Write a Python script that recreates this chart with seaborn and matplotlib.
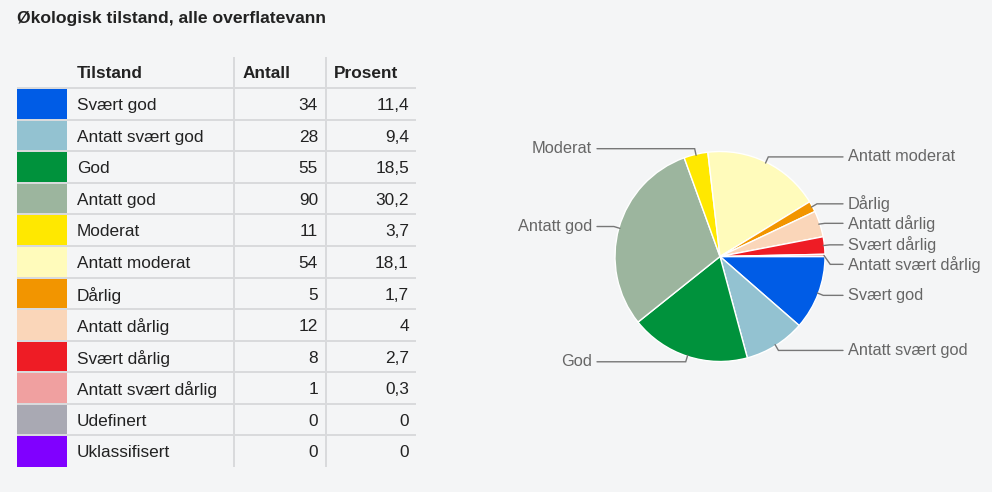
import matplotlib
matplotlib.use("Agg")
import matplotlib.pyplot as plt
from matplotlib.patches import Rectangle
import seaborn as sns
import numpy as np
import pandas as pd

# ---------------- data ----------------
title = "Økologisk tilstand, alle overflatevann"
headers = ["Tilstand", "Antall", "Prosent"]
categories = ["Svært god", "Antatt svært god", "God", "Antatt god", "Moderat",
              "Antatt moderat", "Dårlig", "Antatt dårlig", "Svært dårlig",
              "Antatt svært dårlig", "Udefinert", "Uklassifisert"]
counts = [34, 28, 55, 90, 11, 54, 5, 12, 8, 1, 0, 0]
percents = ["11,4", "9,4", "18,5", "30,2", "3,7", "18,1", "1,7", "4", "2,7", "0,3", "0", "0"]
colors = ["#005ce6", "#93c2d1", "#00923c", "#9cb59e", "#ffe800", "#fffbbb",
          "#f29500", "#fad6b9", "#ee1c25", "#f0a0a0", "#a9a9b3", "#8000ff"]

df = pd.DataFrame({"cat": categories, "n": counts, "pct": percents, "col": colors})

# ---------------- style ----------------
sns.set_theme(style="white")
plt.rcParams["font.family"] = ["Liberation Sans", "DejaVu Sans"]

BG = "#f4f5f6"
GRID = "#d9dadc"
TXT = "#222222"
W, H = 992, 492
fig = plt.figure(figsize=(W / 100, H / 100), dpi=100, facecolor=BG)

# overlay axes in pixel coordinates for title + table
ax_t = fig.add_axes([0, 0, 1, 1])
ax_t.set_xlim(0, W)
ax_t.set_ylim(H, 0)
ax_t.axis("off")

ax_t.text(17, 18, title, fontsize=12.6, fontweight="bold", color=TXT,
          ha="left", va="center")

# table layout
x_sw0, x_sw1 = 17, 67
x_name = 77
x_sep1, x_sep2, x_end = 234, 326, 416
x_antall, x_pros = 318, 409
head_top, head_y = 57, 73.5
row_top0 = 88.2
row_h = 31.55
dy = 1.8
fs = 12.4
lw_px = 2 * 0.72

ax_t.text(x_name, head_y, headers[0], fontsize=fs, fontweight="bold", color=TXT, ha="left", va="center")
ax_t.text(x_sep1 + 9, head_y, headers[1], fontsize=fs, fontweight="bold", color=TXT, ha="left", va="center")
ax_t.text(x_sep2 + 8, head_y, headers[2], fontsize=fs, fontweight="bold", color=TXT, ha="left", va="center")

for i, r in df.iterrows():
    top = row_top0 + i * row_h
    yc = top + row_h / 2 + dy
    ax_t.add_patch(Rectangle((x_sw0, top), x_sw1 - x_sw0, row_h, facecolor=r["col"],
                             edgecolor="none", zorder=1))
    ax_t.text(x_name, yc, r["cat"], fontsize=fs, color=TXT, ha="left", va="center")
    ax_t.text(x_antall, yc, str(r["n"]), fontsize=fs, color=TXT, ha="right", va="center")
    ax_t.text(x_pros, yc, r["pct"], fontsize=fs, color=TXT, ha="right", va="center")

n_rows = len(df)
for i in range(n_rows):
    y = row_top0 + i * row_h
    ax_t.plot([x_sw0, x_end], [y, y], color=GRID, lw=lw_px, zorder=2, solid_capstyle="butt")
bottom = row_top0 + n_rows * row_h
for x in (x_sep1, x_sep2):
    ax_t.plot([x, x], [head_top, bottom], color=GRID, lw=lw_px, zorder=2, solid_capstyle="butt")

# ---------------- pie ----------------
cx, cy, R = 720, 256.5, 105  # pixel centre / radius
px0, px1, py0, py1 = 500, 992, 120, 400
ax_p = fig.add_axes([px0 / W, 1 - py1 / H, (px1 - px0) / W, (py1 - py0) / H])
pdf = df[df["n"] > 0].reset_index(drop=True)
ax_p.pie(pdf["n"], colors=pdf["col"], startangle=0, counterclock=False, radius=1,
         wedgeprops=dict(edgecolor="white", linewidth=1))
ax_p.set_xlim((px0 - cx) / R, (px1 - cx) / R)
ax_p.set_ylim((cy - py1) / R, (cy - py0) / R)
ax_p.set_aspect("auto")
ax_p.axis("off")

frac = pdf["n"] / pdf["n"].sum()
cum = np.cumsum(frac) - frac / 2
theta = np.deg2rad(cum * 360)  # clockwise from east
ex = np.cos(theta)
ey = -np.sin(theta)
side = np.where(ex >= 0, 1, -1)

gap = 19.5 / R
ly = ey * 1.055
for s in (1, -1):
    idx = [i for i in np.argsort(-ey) if side[i] == s]
    for k in range(1, len(idx)):
        prev, cur = idx[k - 1], idx[k]
        if ly[cur] > ly[prev] - gap:
            ly[cur] = ly[prev] - gap

lab_x = 128 / R
line_end = 123 / R
LCOL = "#777777"
for i, r in pdf.iterrows():
    s = side[i]
    x0, y0 = ex[i] * 0.99, ey[i] * 0.99
    x1 = ex[i] * 1.05
    ax_p.plot([x0, x1, s * line_end], [y0, ly[i], ly[i]], color=LCOL, lw=1.0,
              solid_joinstyle="miter")
    ax_p.text(s * lab_x, ly[i], r["cat"], fontsize=11.8, color="#666666",
              ha="left" if s > 0 else "right", va="center")

fig.savefig("out.png", dpi=100, facecolor=BG)
